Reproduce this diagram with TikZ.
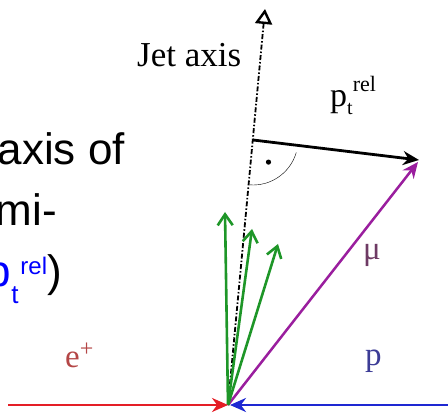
\documentclass[tikz,border=0pt]{standalone}
\usepackage{fontspec}
\setmainfont{Liberation Serif}
\newfontfamily\slaytYazi{Liberation Sans}
\usepackage{tikz}
\usetikzlibrary{arrows.meta,calc}
\definecolor{kirmizi}{HTML}{E41E26}
\definecolor{mavi}{HTML}{1E28D2}
\definecolor{yesil}{HTML}{1E9628}
\definecolor{mor}{HTML}{9A1E9E}
\definecolor{morYazi}{HTML}{6E3A64}
\definecolor{maviYazi}{HTML}{3C3C96}
\definecolor{kirmiziYazi}{HTML}{B44646}
\definecolor{slaytMavi}{HTML}{0000FF}

\begin{document}
\begin{tikzpicture}[x=1pt,y=1pt,
  ok/.style={line width=2.8pt,-{Stealth[length=16pt,width=14pt]}},
  jetOk/.style={yesil,line width=2.6pt,-{Straight Barb[length=11pt,width=15pt]}},
  etiket/.style={inner sep=0pt,anchor=base west,font=\fontsize{33}{33}\selectfont},
  slayt/.style={inner sep=0pt,anchor=base east,font=\slaytYazi\fontsize{44}{44}\selectfont}]
\useasboundingbox (0,0) rectangle (448,415);
\clip (0,0) rectangle (448,415);
\coordinate (O) at (228,10);
\coordinate (eBas) at (8,10);
\coordinate (pBas) at (450,10);
\coordinate (muUc) at (418,253);
\coordinate (jetUc) at (265,406);
\coordinate (J) at (253,275);
\coordinate (ptUc) at (419,255);
\coordinate (g1) at (225,203);
\coordinate (g2) at (252,186);
\coordinate (g3) at (278,171);
% slide text behind the figure
\node[slayt] (satir1) at (125,250) {axis of};
\node[slayt] (satir2) at (57,189) {mi-};
\node[slayt] (satir3) at (62,128) {{\color{slaytMavi}p\raisebox{-17pt}{\fontsize{26}{26}\selectfont t}\hspace{2pt}\raisebox{12pt}{\fontsize{24}{24}\selectfont rel}})};
% jet axis
\draw[line width=1.8pt,dash pattern=on 5pt off 2pt on 1.5pt off 2pt,
  -{Triangle[open,length=15pt,width=17pt,line width=2.4pt]}] (O) -- (jetUc);
\draw[thin] ($(J)+(266:45)$) arc[start angle=266,end angle=344,radius=45];
\fill ($(J)+(305:27)$) circle (2.6pt);
\draw[ok,line width=2.8pt] (J) -- (ptUc);
\draw[ok,mor,line width=2.5pt] (O) -- (muUc);
\foreach \g in {g1,g2,g3} \draw[jetOk] (O) -- (\g);
\draw[ok,kirmizi] (eBas) -- (O);
\draw[ok,mavi] (pBas) -- ([xshift=2pt]O);
\node[etiket,font=\fontsize{35}{35}\selectfont] (jetEtiket) at (137,348) {Jet axis};
\node[etiket,font=\fontsize{34}{34}\selectfont] (ptEtiket) at (330,308) {p\raisebox{-8pt}{\fontsize{20}{20}\selectfont t}\raisebox{15pt}{\fontsize{22}{22}\selectfont rel}};
\node[etiket,morYazi] (muEtiket) at (363,155) {μ};
\node[etiket,maviYazi] (pEtiket) at (365,49) {p};
\node[etiket,kirmiziYazi] (eEtiket) at (65,47) {e\raisebox{11pt}{\fontsize{24}{24}\selectfont +}};
\end{tikzpicture}
\end{document}
